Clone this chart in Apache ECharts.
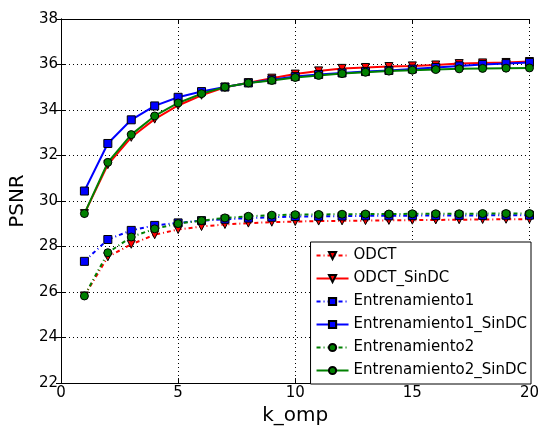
<!DOCTYPE html>
<html>
<head>
<meta charset="utf-8">
<script src="https://cdn.jsdelivr.net/npm/echarts@6/dist/echarts.min.js"></script>
<style>
  body { margin: 0; background: #fff; }
  #chart { width: 542px; height: 431px; }
</style>
</head>
<body>
<div id="chart"></div>
<script>
var kOmp = [1, 2, 3, 4, 5, 6, 7, 8, 9, 10, 11, 12, 13, 14, 15, 16, 17, 18, 19, 20];

var odct = [25.83, 27.55, 28.10, 28.52, 28.75, 28.88, 28.97, 29.03, 29.07, 29.10, 29.12, 29.13, 29.14, 29.15, 29.16, 29.17, 29.18, 29.19, 29.20, 29.20];
var odctSinDC = [29.45, 31.60, 32.80, 33.60, 34.20, 34.65, 35.00, 35.20, 35.40, 35.58, 35.72, 35.83, 35.87, 35.91, 35.94, 35.98, 36.04, 36.07, 36.09, 36.13];
var ent1 = [27.35, 28.31, 28.71, 28.93, 29.04, 29.14, 29.20, 29.25, 29.29, 29.32, 29.33, 29.34, 29.35, 29.35, 29.36, 29.36, 29.37, 29.37, 29.38, 29.38];
var ent1SinDC = [30.44, 32.53, 33.57, 34.18, 34.56, 34.81, 35.01, 35.19, 35.33, 35.47, 35.56, 35.63, 35.69, 35.74, 35.80, 35.87, 35.94, 36.00, 36.04, 36.09];
var ent2 = [25.83, 27.73, 28.42, 28.78, 29.01, 29.14, 29.26, 29.33, 29.38, 29.40, 29.41, 29.42, 29.43, 29.43, 29.44, 29.44, 29.44, 29.45, 29.45, 29.45];
var ent2SinDC = [29.45, 31.70, 32.92, 33.74, 34.31, 34.72, 35.01, 35.19, 35.30, 35.43, 35.52, 35.60, 35.66, 35.71, 35.75, 35.78, 35.81, 35.83, 35.84, 35.85];

var xTicks = [0, 5, 10, 15, 20];
var yTicks = [22, 24, 26, 28, 30, 32, 34, 36, 38];

var FONT = 'DejaVu Sans';
var triDown = 'path://M0,0 L10,0 L5,10 Z';

function pairs(vals) {
  return kOmp.map(function (k, i) { return [k, vals[i]]; });
}

function mk(name, vals, color, symbol, size, dotted) {
  return {
    name: name,
    type: 'line',
    data: pairs(vals),
    symbol: symbol,
    symbolSize: size,
    showAllSymbol: true,
    animation: false,
    itemStyle: { color: color, borderColor: '#000', borderWidth: 1 },
    lineStyle: dotted
      ? { color: color, width: 2, type: [4, 3, 1, 3] }
      : { color: color, width: 2 }
  };
}

var chart = echarts.init(document.getElementById('chart'));

var axisLine = { show: true, lineStyle: { color: '#000', width: 1 } };
var tickIn = { show: true, inside: true, length: 5, lineStyle: { color: '#000' } };
var gridLine = { show: true, lineStyle: { color: '#000', width: 1, type: [1, 3] } };

var option = {
  backgroundColor: '#fff',
  animation: false,
  grid: { left: 60, right: 11, top: 19, bottom: 47, containLabel: false },
  legend: {
    orient: 'vertical',
    right: 11,
    bottom: 47,
    backgroundColor: '#fff',
    borderColor: '#000',
    borderWidth: 1,
    borderRadius: 0,
    padding: [6, 4, 6, 5],
    itemGap: 8,
    itemWidth: 32,
    itemHeight: 9,
    textStyle: { fontFamily: FONT, fontSize: 15, lineHeight: 14, color: '#000' },
    data: ['ODCT', 'ODCT_SinDC', 'Entrenamiento1', 'Entrenamiento1_SinDC', 'Entrenamiento2', 'Entrenamiento2_SinDC']
  },
  xAxis: [{
    type: 'value',
    min: xTicks[0],
    max: xTicks[xTicks.length - 1],
    interval: 5,
    name: 'k_omp',
    nameLocation: 'middle',
    nameGap: 22,
    nameTextStyle: { fontFamily: FONT, fontSize: 20, color: '#000' },
    axisLine: axisLine,
    axisTick: tickIn,
    axisLabel: { fontFamily: FONT, fontSize: 15, color: '#000', margin: 3 },
    splitLine: gridLine
  }, {
    type: 'value',
    position: 'top',
    min: 0, max: 20, interval: 5,
    axisLine: axisLine,
    axisTick: tickIn,
    axisLabel: { show: false },
    splitLine: { show: false }
  }],
  yAxis: [{
    type: 'value',
    min: yTicks[0],
    max: yTicks[yTicks.length - 1],
    interval: 2,
    name: 'PSNR',
    nameLocation: 'middle',
    nameGap: 32,
    nameTextStyle: { fontFamily: FONT, fontSize: 20, color: '#000' },
    axisLine: axisLine,
    axisTick: tickIn,
    axisLabel: { fontFamily: FONT, fontSize: 15, color: '#000', margin: 3 },
    splitLine: gridLine
  }, {
    type: 'value',
    position: 'right',
    min: 22, max: 38, interval: 2,
    axisLine: axisLine,
    axisTick: tickIn,
    axisLabel: { show: false },
    splitLine: { show: false }
  }],
  series: [
    mk('ODCT', odct, '#ff0000', triDown, 8, true),
    mk('ODCT_SinDC', odctSinDC, '#ff0000', triDown, 8, false),
    mk('Entrenamiento1', ent1, '#0000ff', 'rect', 8, true),
    mk('Entrenamiento1_SinDC', ent1SinDC, '#0000ff', 'rect', 8, false),
    mk('Entrenamiento2', ent2, '#008000', 'circle', 8, true),
    mk('Entrenamiento2_SinDC', ent2SinDC, '#008000', 'circle', 8, false)
  ]
};

chart.setOption(option);
</script>
</body>
</html>
